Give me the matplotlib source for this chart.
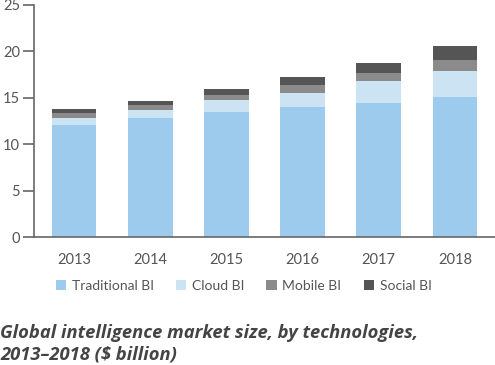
import matplotlib
matplotlib.use("Agg")
import matplotlib.pyplot as plt
import numpy as np

years = ["2013", "2014", "2015", "2016", "2017", "2018"]
traditional = [12.1, 12.8, 13.5, 14.0, 14.5, 15.1]
cloud = [0.75, 0.95, 1.25, 1.55, 2.35, 2.8]
mobile = [0.5, 0.45, 0.55, 0.85, 0.8, 1.2]
social = [0.45, 0.5, 0.65, 0.85, 1.15, 1.5]

series = [traditional, cloud, mobile, social]
names = ["Traditional BI", "Cloud BI", "Mobile BI", "Social BI"]
colors = ["#9ccbee", "#cce3f3", "#8b8b8b", "#555555"]

plt.rcParams['font.family'] = ['Lato', 'DejaVu Sans']
txt = "#555555"

fig = plt.figure(figsize=(4.95, 3.65), dpi=100)
ax = fig.add_axes([34/495, 1-237.3/365, 1-34/495, 232.3/365])

x = np.arange(len(years))
bottom = np.zeros(len(years))
for vals, nm, c in zip(series, names, colors):
    ax.bar(x, vals, 0.59, bottom=bottom, color=c, label=nm, linewidth=0)
    bottom += np.array(vals)

ax.set_xlim(-0.525, 5.525)
ax.set_ylim(0, 25)
ax.set_yticks([0, 5, 10, 15, 20, 25])
ax.set_xticks(x)
ax.set_xticklabels(years)
for s in ["top", "right"]:
    ax.spines[s].set_visible(False)
for s in ["left", "bottom"]:
    ax.spines[s].set_color("#666666")
    ax.spines[s].set_linewidth(1.2)
ax.tick_params(axis="y", length=8, width=1.2, color="#666666", labelcolor=txt, labelsize=10.5, pad=2)
ax.tick_params(axis="x", length=0, labelcolor=txt, labelsize=10.5, pad=11)

leg = ax.legend(loc="center", bbox_to_anchor=(243.5/495, 1-285.7/365), bbox_transform=fig.transFigure,
                ncol=4, frameon=False, borderpad=0,
                fontsize=10, labelcolor=txt, handlelength=0.75, handleheight=0.75,
                handletextpad=0.4, columnspacing=1.6)

fig.text(0.0, 5/365, "Global intelligence market size, by technologies,\n2013\u20132018 ($ billion)",
         fontsize=13.2, fontweight="bold", style="italic", color="#444444",
         family=["Open Sans", "DejaVu Sans"],
         ha="left", va="baseline", linespacing=1.3)

fig.savefig("out.png", dpi=100)
